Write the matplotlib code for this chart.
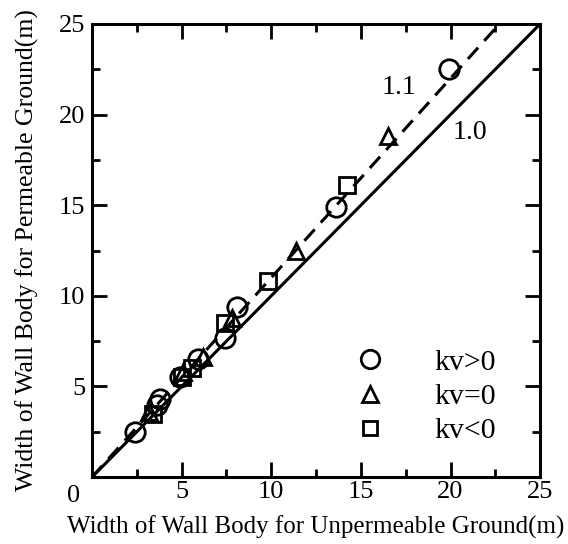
import numpy as np
import matplotlib
matplotlib.use("Agg")
import matplotlib.pyplot as plt
from matplotlib.ticker import MultipleLocator

plt.rcParams.update({
    "font.family": "Liberation Serif", "font.size": 17,
    "xtick.direction": "in", "ytick.direction": "in",
    "xtick.top": True, "ytick.right": True,
})

# kv>0 (circles)
pos_x = [2.4, 3.6, 3.8, 4.9, 5.9, 7.4, 8.1, 13.6, 19.9]
pos_y = [2.5, 4.0, 4.3, 5.5, 6.5, 7.7, 9.4, 14.9, 22.5]
# kv=0 (triangles)
zero_x = [3.2, 5.1, 6.2, 7.8, 11.4, 16.5]
zero_y = [3.6, 5.8, 6.6, 8.8, 12.5, 18.8]
# kv<0 (squares)
neg_x = [3.4, 5.0, 5.6, 7.4, 9.8, 14.2]
neg_y = [3.5, 5.5, 6.0, 8.5, 10.8, 16.1]

ratios = [1.0, 1.1]
ticks = [5, 10, 15, 20, 25]

fig = plt.figure(figsize=(5.68, 5.44), dpi=100)
ax = fig.add_axes([0.162, 0.123, 0.789, 0.833])

xx = np.array([0, 25])
ax.plot(xx, ratios[0] * xx, color="black", lw=2.2, zorder=2)
xd = np.array([0, 25 / ratios[1]])
ax.plot(xd, ratios[1] * xd, color="black", lw=2.2, ls=(0, (5, 3)), zorder=2)

mk = dict(mfc="none", mec="black", mew=2.0, ls="none", zorder=3)
ax.plot(pos_x, pos_y, "o", ms=14, label="kv>0", **mk)
ax.plot(zero_x, zero_y, "^", ms=12, label="kv=0", **mk)
ax.plot(neg_x, neg_y, "s", ms=11, label="kv<0", **mk)

ax.text(17.1, 21.5, "1.1", fontsize=20, ha="center", va="center")
ax.text(21.1, 19.0, "1.0", fontsize=20, ha="center", va="center")

ax.legend(loc="lower left", bbox_to_anchor=(0.528, 0.013), frameon=False,
          handlelength=1.0, handletextpad=1.65, labelspacing=0.25,
          markerscale=0.95, fontsize=21.5)

ax.set_xlim(0, 25)
ax.set_ylim(0, 25)
ax.set_xticks(ticks)
ax.set_yticks(ticks)
ax.xaxis.set_minor_locator(MultipleLocator(2.5))
ax.yaxis.set_minor_locator(MultipleLocator(2.5))
ax.tick_params(which="major", length=11, width=2, labelsize=19)
ax.tick_params(which="minor", length=6, width=2)
ax.tick_params(axis="x", pad=3)
ax.tick_params(axis="y", pad=5)
for s in ax.spines.values():
    s.set_linewidth(2.2)
ax.text(-0.042, -0.018, "0", transform=ax.transAxes, fontsize=19,
        ha="center", va="top")

ax.set_xlabel("Width of Wall Body for Unpermeable Ground(m)", fontsize=18, labelpad=9)
ax.set_ylabel("Width of Wall Body for Permeable Ground(m)", fontsize=18.5, labelpad=14)

fig.savefig("out.png", dpi=100)
